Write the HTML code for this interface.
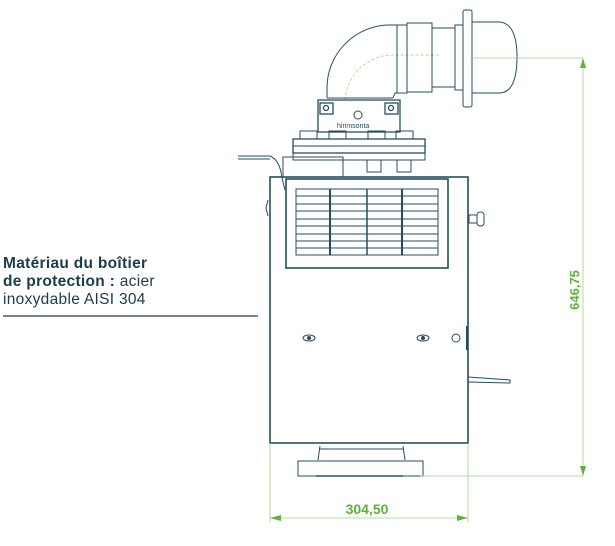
<!DOCTYPE html>
<html><head><meta charset="utf-8"><style>
html,body{margin:0;padding:0;background:#fff;width:615px;height:546px;overflow:hidden}
.t{position:absolute;left:3px;top:255px;font-family:"Liberation Sans",sans-serif;font-size:15.5px;letter-spacing:0.3px;line-height:18px;color:#1d3b4a}
</style></head><body>
<svg width="615" height="546" style="position:absolute;left:0;top:0" xmlns="http://www.w3.org/2000/svg">
<g fill="none" stroke="#244e5e" stroke-width="1">
<path d="M327,98 L327,88 A63,63 0 0 1 390,25 L407,25"/>
<path d="M393,98 L395,93 L407,93"/>
<path d="M345,100 A48,48 0 0 1 393,55 L440,55" stroke="#b8c070" stroke-dasharray="3,2" stroke-width="0.7"/>
<rect x="397" y="25" width="10" height="68"/>
<rect x="407" y="23" width="25" height="69"/>
<rect x="432" y="28" width="23" height="59"/>
<rect x="455" y="25" width="8" height="65"/>
<rect x="463" y="10" width="9" height="97" rx="2"/>
<path d="M472,22 L500,22 Q517,24 517,57 Q517,92 500,93 L472,93"/>
<path d="M327,98 L393,98"/>
<rect x="318" y="100" width="82" height="32" stroke-width="1.3"/>
<rect x="320" y="103" width="13" height="11" stroke-width="1.3"/>
<rect x="385" y="103" width="13" height="11" stroke-width="1.3"/>
<circle cx="326" cy="108" r="2.5" stroke-width="1.3"/>
<circle cx="391" cy="108" r="2.5" stroke-width="1.3"/>
<circle cx="358" cy="115" r="4"/>
<rect x="300" y="131" width="17" height="8"/><rect x="329" y="131" width="17" height="8"/>
<rect x="368" y="131" width="17" height="8"/><rect x="396" y="131" width="17" height="8"/>
<rect x="293" y="139" width="132" height="14" stroke-width="1.3"/>
<line x1="293" y1="146" x2="425" y2="146"/>
<rect x="293" y="153" width="132" height="7"/>
<rect x="283" y="157" width="60" height="20"/>
<rect x="367" y="160" width="14" height="12"/><rect x="397" y="160" width="14" height="12"/>
<path d="M238,156 L270,156 Q280,160 282,178 L285,190"/>
<path d="M238,159 L270,159"/>
<rect x="270" y="177" width="198" height="266" stroke-width="1.6"/>
<rect x="286" y="179" width="162" height="89" stroke-width="1.6"/>
<rect x="296" y="189" width="142" height="66"/>
<line x1="296" y1="196" x2="438" y2="196"/><line x1="296" y1="204" x2="438" y2="204"/>
<line x1="296" y1="211" x2="438" y2="211"/><line x1="296" y1="219" x2="438" y2="219"/>
<line x1="296" y1="226" x2="438" y2="226"/><line x1="296" y1="234" x2="438" y2="234"/>
<line x1="296" y1="241" x2="438" y2="241"/><line x1="296" y1="248" x2="438" y2="248"/>
<line x1="330" y1="189" x2="330" y2="255" stroke-width="2"/>
<line x1="367" y1="189" x2="367" y2="255" stroke-width="1.5"/>
<line x1="402" y1="189" x2="402" y2="255" stroke-width="2"/>
<rect x="469" y="215" width="8" height="8"/><rect x="477" y="212" width="7" height="14" rx="3"/>
<path d="M268,200 L266,208 L268,216"/>
<ellipse cx="309" cy="338" rx="6" ry="3"/><circle cx="309" cy="338" r="1.5" fill="#244e5e"/>
<ellipse cx="423" cy="338" rx="6" ry="3"/><circle cx="423" cy="338" r="1.5" fill="#244e5e"/>
<circle cx="456" cy="338" r="4"/>
<line x1="467" y1="326" x2="467" y2="350" stroke-width="2"/>
<path d="M468,377 L510,380 L510,383 L468,382"/>
<path d="M320,446 L318,460 M403,446 L405,460 M320,449 L403,449"/>
<rect x="298" y="461" width="125" height="15"/>
<line x1="316" y1="476" x2="403" y2="476" stroke-width="1.5"/>
</g>
<text x="337" y="128" font-family="Liberation Sans,sans-serif" font-size="7" fill="#244e5e">hirimsonta</text>
<g stroke="#9fd28a" stroke-width="0.8" fill="none">
<line x1="470" y1="58" x2="583" y2="58"/>
<line x1="420" y1="476" x2="583" y2="476"/>
<line x1="583" y1="58" x2="583" y2="476"/>
<line x1="270" y1="443" x2="270" y2="522"/>
<line x1="468" y1="443" x2="468" y2="522"/>
<line x1="270" y1="518" x2="468" y2="518"/>
</g>
<g fill="#5fb238">
<polygon points="583,58 580,68 586,68"/><polygon points="583,476 580,466 586,466"/>
<polygon points="270,518 281,515 281,521"/><polygon points="468,518 457,515 457,521"/>
</g>
<text x="367" y="514" text-anchor="middle" font-family="Liberation Sans,sans-serif" font-size="14" font-weight="bold" fill="#5fb238">304,50</text>
<text transform="translate(579,290) rotate(-90)" text-anchor="middle" font-family="Liberation Sans,sans-serif" font-size="13" font-weight="bold" fill="#5fb238">646,75</text>
<line x1="3" y1="316" x2="258" y2="316" stroke="#1d3b4a" stroke-width="1.2"/>
</svg>
<div class="t"><b>Matériau du boîtier<br>de protection :</b> acier<br>inoxydable AISI 304</div>
</body></html>
